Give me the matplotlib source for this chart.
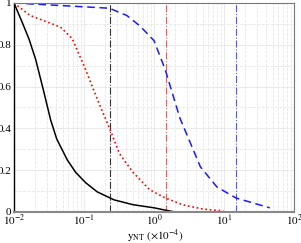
import numpy as np
import matplotlib.pyplot as plt

plt.rcParams['font.family'] = ['Liberation Serif', 'DejaVu Serif']
plt.rcParams['mathtext.fontset'] = 'stix'

# black solid curve
black_x = [0.01, 0.013, 0.0164, 0.0204, 0.0269, 0.0334, 0.0407, 0.0575, 0.0759, 0.1057,
           0.155, 0.269, 0.5, 1.0, 1.6, 2.0]
black_y = [1.0, 0.91, 0.827, 0.73, 0.57, 0.44, 0.35, 0.25, 0.19, 0.14,
           0.096, 0.058, 0.035, 0.02, 0.006, 0.0]

# red dotted curve
red_x = [0.01, 0.017, 0.046, 0.0676, 0.1, 0.155, 0.245, 0.32, 0.5, 0.87, 1.45, 2.6, 5.0, 9.8]
red_y = [1.0, 0.94, 0.885, 0.83, 0.70, 0.54, 0.38, 0.28, 0.19, 0.106, 0.067, 0.034, 0.014, 0.005]

# blue dashed curve
blue_x = [0.01, 0.019, 0.23, 0.41, 0.63, 1.0, 1.45, 2.34, 4.6, 7.9, 14.8, 45.0]
blue_y = [1.0, 0.995, 0.975, 0.94, 0.89, 0.82, 0.68, 0.45, 0.216, 0.12, 0.067, 0.02]

# vertical reference lines
vline_x = [0.233, 1.47, 14.7]
vline_colors = ['#333333', '#ff5555', '#5555ff']

fig = plt.figure(figsize=(3.01, 2.43), dpi=100)
ax = fig.add_axes([0.0465, 0.1276, 0.9303, 0.8601])

ax.grid(True, which='major', color='#e6e6e6', linestyle='-', linewidth=0.6)
ax.grid(True, which='minor', color='#e6e6e6', linestyle='--', linewidth=0.6)

for xv, c in zip(vline_x, vline_colors):
    ax.axvline(xv, color=c, linestyle='-.', linewidth=0.8)

ax.plot(black_x, black_y, color='black', linestyle='-', linewidth=1.1)
ax.plot(red_x, red_y, color='red', linestyle=':', linewidth=1.2)
ax.plot(blue_x, blue_y, color='#1a1aff', linestyle=(0, (5, 3)), linewidth=1.1)

ax.set_xscale('log')
ax.set_xlim(0.01, 100)
ax.set_ylim(0, 1)
ax.set_yticks([0, 0.2, 0.4, 0.6, 0.8, 1.0])
ax.set_yticklabels(['0', '0.2', '0.4', '0.6', '0.8', '1'])
ax.set_yticks([0.1, 0.3, 0.5, 0.7, 0.9], minor=True)
ax.set_xticks([0.01, 0.1, 1, 10, 100])
ax.set_xticklabels([r'$10^{-2}$', r'$10^{-1}$', r'$10^{0}$', r'$10^{1}$', r'$10^{2}$'])
ax.tick_params(which='both', length=0, labelsize=8, pad=2)
ax.tick_params(axis='x', pad=1)

for s in ['top', 'right']:
    ax.spines[s].set_color('#777777')
ax.spines['bottom'].set_color('#888888')
ax.spines['bottom'].set_linewidth(1.5)
ax.spines['left'].set_color('black')
ax.spines['left'].set_linewidth(1.0)

fig.text(0.515, 0.014, r'$\mathrm{y}_{\mathrm{NT}}$ $(\times 10^{-4})$', fontsize=8,
         ha='center', va='baseline')

fig.savefig('out.png', dpi=100)
